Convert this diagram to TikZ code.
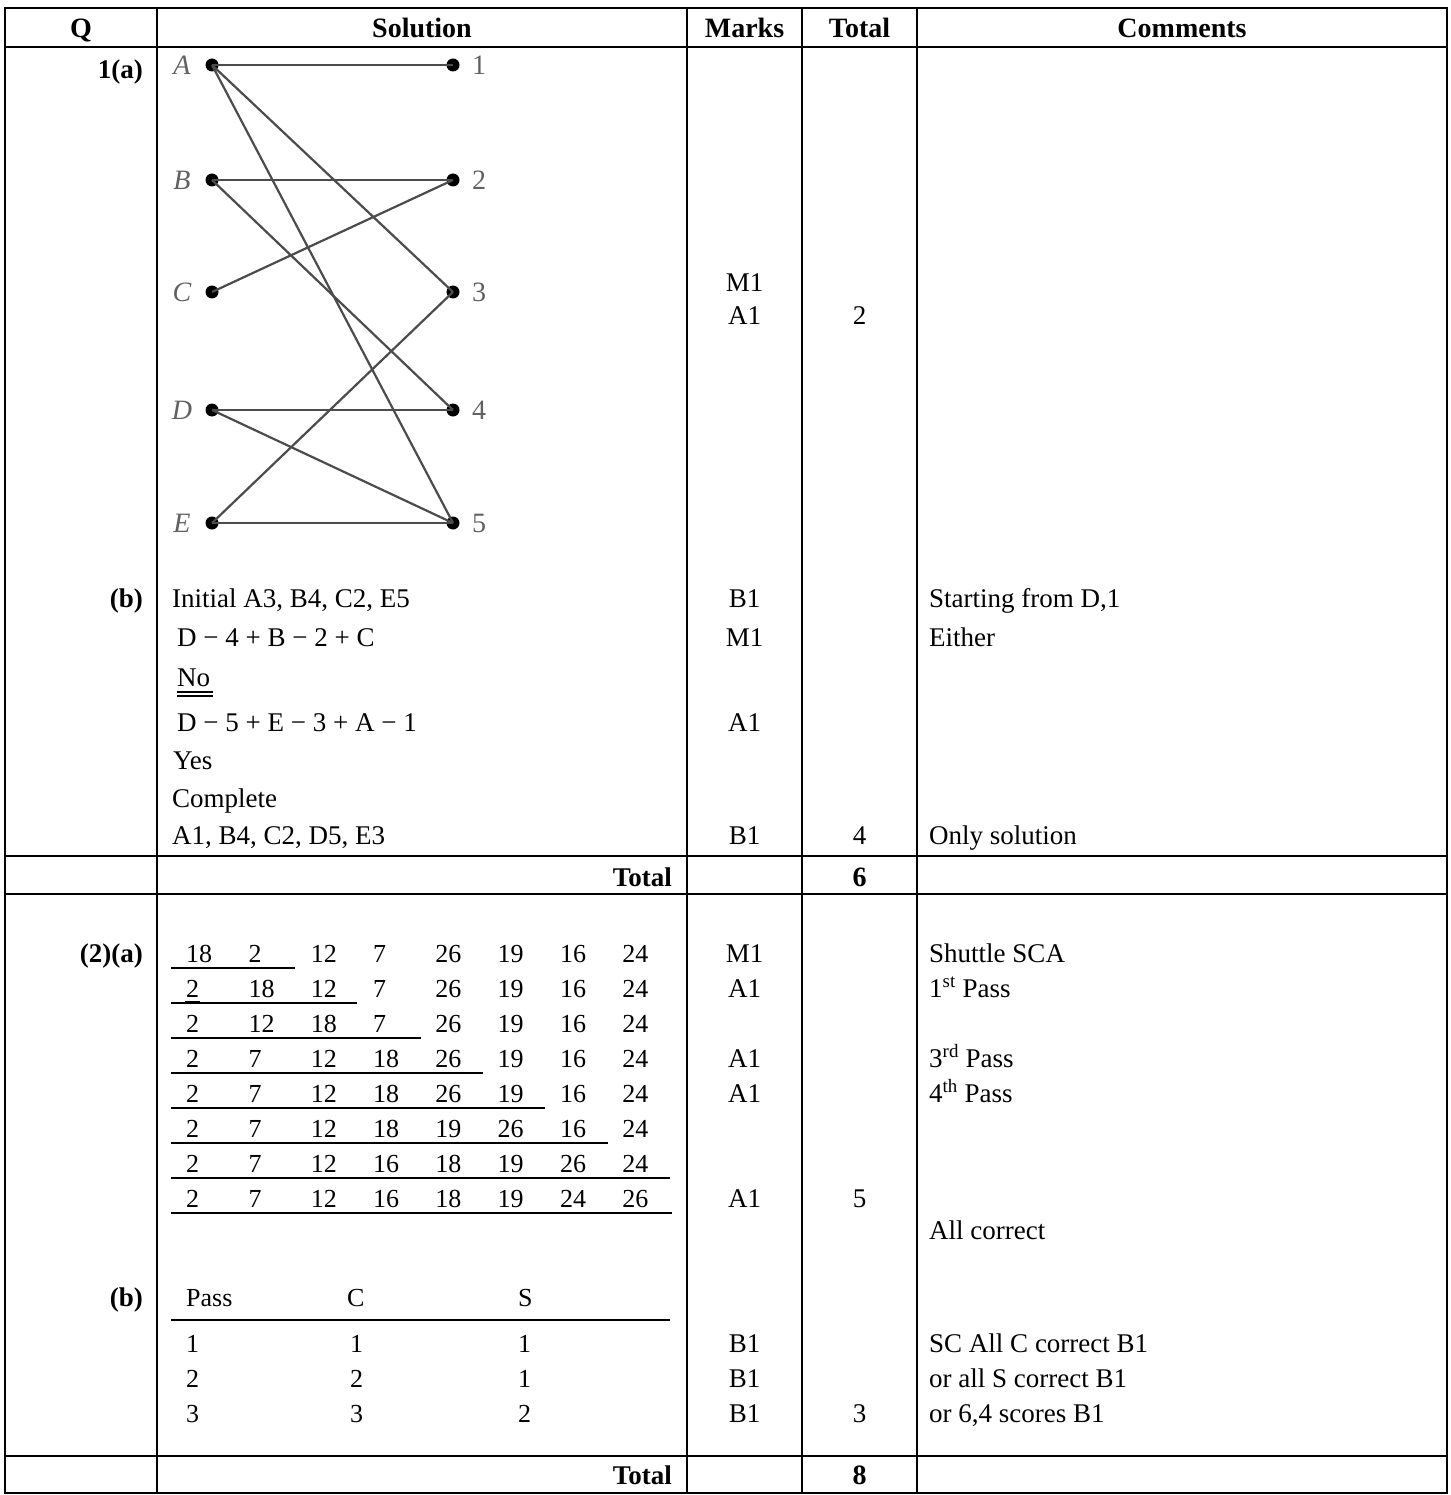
\documentclass[tikz,border=0pt]{standalone}
\usepackage{fontspec}
\setmainfont{Liberation Serif}
\begin{document}
\begin{tikzpicture}[x=1pt,y=-1pt,
  gridline/.style={line width=2.6pt},
  body/.style={anchor=base west, inner sep=0pt, font=\fontsize{27}{32}\selectfont},
  bodyc/.style={anchor=base, inner sep=0pt, font=\fontsize{27}{32}\selectfont},
  qlab/.style={anchor=base east, inner sep=0pt, font=\fontsize{27}{32}\selectfont\bfseries},
  hdr/.style={anchor=base, inner sep=0pt, font=\fontsize{28}{32}\selectfont\bfseries},
  num/.style={anchor=base west, inner sep=0pt, font=\fontsize{26}{30}\selectfont},
  trule/.style={line width=1.8pt},
  dot/.style={circle, fill=black, inner sep=0pt, minimum size=13pt},
  gedge/.style={line width=2.2pt, draw=black!70},
  vlab/.style={inner sep=0pt, font=\fontsize{28}{30}\selectfont\itshape, text=black!62},
  nlab/.style={inner sep=0pt, font=\fontsize{28}{30}\selectfont, text=black!62}]
\useasboundingbox (0,0) rectangle (1450,1495);
\fill[white] (0,0) rectangle (1450,1495);

% ---------- grid ----------
\foreach \yy in {8,47,856,894,1456,1493}
  \draw[gridline] (3.7,\yy) -- (1448.3,\yy);
\foreach \xx in {5,157,687,802,917,1447}
  \draw[gridline] (\xx,6.7) -- (\xx,1494.3);

% ---------- header ----------
\node[hdr] (hQ) at (81,38) {Q};
\node[hdr] (hS) at (422,38) {Solution};
\node[hdr] (hM) at (744.5,38) {Marks};
\node[hdr] (hT) at (859.5,38) {Total};
\node[hdr] (hC) at (1182,38) {Comments};

% ---------- 1(a) ----------
\node[qlab] (q1a) at (143,79) {1(a)};
\foreach \n/\yy in {A/65,B/180,C/292,D/410,E/523}{
  \node[dot] (\n) at (212,\yy) {};
  \node[vlab] (l\n) at (182,\yy) {\n};
}
\foreach \n/\yy in {1/65,2/180,3/292,4/410,5/523}{
  \node[dot] (r\n) at (453,\yy) {};
  \node[nlab] (lr\n) at (479,\yy) {\n};
}
\foreach \a/\b in {A/r1,A/r3,A/r5,B/r2,B/r4,C/r2,D/r4,D/r5,E/r3,E/r5}
  \draw[gedge] (\a.center) -- (\b.center);
\node[bodyc] (m1a1) at (744.5,292) {M1};
\node[bodyc] (m1a2) at (744.5,324) {A1};
\node[bodyc] (t1a) at (859.5,324) {2};

% ---------- 1(b) ----------
\node[qlab] (q1b) at (143,607) {(b)};
\node[body] (s1) at (172,607) {Initial A3, B4, C2, E5};
\node[body] (s2) at (177,646) {D − 4 + B − 2 + C};
\node[body] (s3) at (177,686) {No};
\draw[line width=1.2pt] (s3.base west) ++(0,6) -- ++(36,0);
\draw[line width=1.2pt] (s3.base west) ++(0,10) -- ++(36,0);
\node[body] (s4) at (177,731) {D − 5 + E − 3 + A − 1};
\node[body] (s5) at (173,769) {Yes};
\node[body] (s6) at (172,807) {Complete};
\node[body] (s7) at (172,844) {A1, B4, C2, D5, E3};
\node[bodyc] (m1b1) at (744.5,607) {B1};
\node[bodyc] (m1b2) at (744.5,646) {M1};
\node[bodyc] (m1b3) at (744.5,731) {A1};
\node[bodyc] (m1b4) at (744.5,844) {B1};
\node[bodyc] (t1b) at (859.5,844) {4};
\node[body] (c1) at (929,607) {Starting from D,1};
\node[body] (c2) at (929,646) {Either};
\node[body] (c3) at (929,844) {Only solution};

% ---------- Total 6 ----------
\node[qlab] (tot1) at (672,886) {Total};
\node[hdr] (tot1v) at (859.5,886) {6};

% ---------- 2(a) ----------
\node[qlab] (q2a) at (143,962) {(2)(a)};
\foreach \row [count=\r] in {{18,2,12,7,26,19,16,24},{2,18,12,7,26,19,16,24},{2,12,18,7,26,19,16,24},{2,7,12,18,26,19,16,24},{2,7,12,18,26,19,16,24},{2,7,12,18,19,26,16,24},{2,7,12,16,18,19,26,24},{2,7,12,16,18,19,24,26}}{
  \foreach \v [count=\c] in \row {
    \node[num] (n-\r-\c) at ({186+62.3*(\c-1)},{962+35*(\r-1)}) {\v};
  }
}
\foreach \r/\e in {1/295,2/357,3/421,4/483,5/545,6/608,7/670,8/672}
  \draw[trule] (171,{968+35*(\r-1)}) -- (\e,{968+35*(\r-1)});
\draw[line width=1.2pt] (n-2-1.base west) ++(-1,5) -- ++(15,0);
\node[bodyc] (m2a1) at (744.5,962) {M1};
\node[bodyc] (m2a2) at (744.5,997) {A1};
\node[bodyc] (m2a3) at (744.5,1067) {A1};
\node[bodyc] (m2a4) at (744.5,1102) {A1};
\node[bodyc] (m2a5) at (744.5,1207) {A1};
\node[bodyc] (t2a) at (859.5,1207) {5};
\node[body] (c4) at (929,962) {Shuttle SCA};
\node[body] (c5) at (929,997) {1\textsuperscript{st} Pass};
\node[body] (c6) at (929,1067) {3\textsuperscript{rd} Pass};
\node[body] (c7) at (929,1102) {4\textsuperscript{th} Pass};
\node[body] (c8) at (929,1239) {All correct};

% ---------- 2(b) ----------
\node[qlab] (q2b) at (143,1306) {(b)};
\node[num] (p0) at (186,1306) {Pass};
\node[num] (pc) at (347,1306) {C};
\node[num] (ps) at (518,1306) {S};
\draw[trule] (171,1320) -- (670,1320);
\foreach \a/\b/\cc [count=\r] in {1/1/1,2/2/1,3/3/2}{
  \node[num] (pa\r) at (186,{1352+35*(\r-1)}) {\a};
  \node[num] (pb\r) at (350,{1352+35*(\r-1)}) {\b};
  \node[num] (pd\r) at (518,{1352+35*(\r-1)}) {\cc};
  \node[bodyc] (m2b\r) at (744.5,{1352+35*(\r-1)}) {B1};
}
\node[bodyc] (t2b) at (859.5,1422) {3};
\node[body] (c9) at (929,1352) {SC All C correct B1};
\node[body] (c10) at (929,1387) {or all S correct B1};
\node[body] (c11) at (929,1422) {or 6,4 scores B1};

% ---------- Total 8 ----------
\node[qlab] (tot2) at (672,1484) {Total};
\node[hdr] (tot2v) at (859.5,1484) {8};
\end{tikzpicture}
\end{document}
